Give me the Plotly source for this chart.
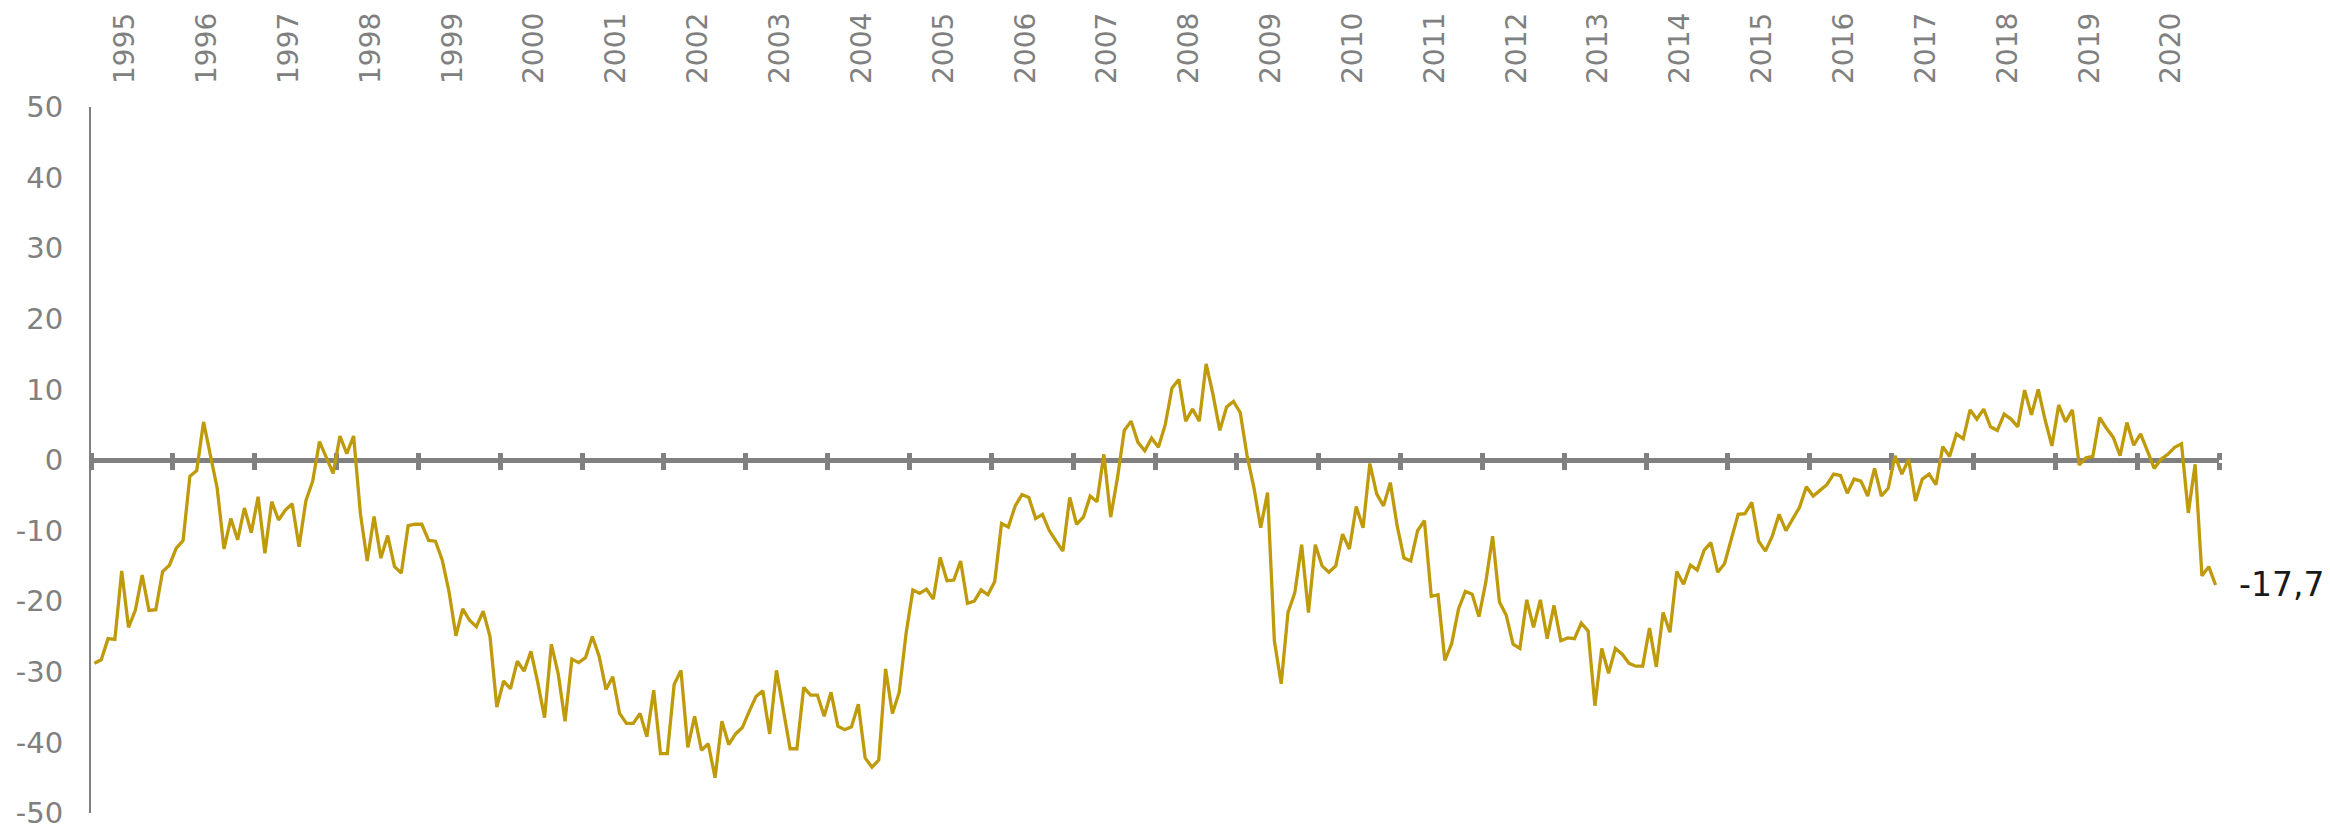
import plotly.graph_objects as go

# ---- data (monthly values, Jan 1995 .. Dec 2020) ----
years = list(range(1995, 2021))

v1995 = [-28.8, -28.3, -25.3, -25.4, -15.7, -23.7, -21.3, -16.3, -21.3, -21.2, -15.8, -14.9]
v1996 = [-12.5, -11.4, -2.3, -1.5, 5.4, 0.7, -4.0, -12.6, -8.3, -11.3, -6.8, -10.3]
v1997 = [-5.2, -13.2, -5.9, -8.5, -7.1, -6.2, -12.3, -5.8, -3.0, 2.6, 0.4, -1.9]
v1998 = [3.4, 0.9, 3.4, -7.6, -14.3, -8.0, -13.9, -10.7, -15.1, -16.0, -9.3, -9.1]
v1999 = [-9.1, -11.4, -11.5, -14.2, -18.7, -24.9, -21.1, -22.7, -23.6, -21.4, -25.0, -35.0]
v2000 = [-31.3, -32.4, -28.5, -29.9, -27.1, -31.5, -36.5, -26.1, -30.3, -37.0, -28.2, -28.7]
v2001 = [-28.0, -25.0, -27.8, -32.5, -30.7, -35.9, -37.3, -37.3, -35.9, -39.2, -32.6, -41.6]
v2002 = [-41.6, -31.8, -29.8, -40.7, -36.3, -41.1, -40.2, -45.0, -37.0, -40.3, -38.8, -37.9]
v2003 = [-35.6, -33.5, -32.7, -38.8, -29.8, -35.4, -40.9, -40.9, -32.2, -33.3, -33.3, -36.3]
v2004 = [-32.9, -37.7, -38.2, -37.8, -34.6, -42.2, -43.5, -42.5, -29.6, -35.9, -32.9, -24.6]
v2005 = [-18.4, -18.9, -18.3, -19.7, -13.8, -17.1, -17.0, -14.3, -20.3, -20.0, -18.4, -19.1]
v2006 = [-17.2, -9.0, -9.5, -6.5, -4.9, -5.3, -8.3, -7.7, -10.0, -11.5, -12.9, -5.3]
v2007 = [-9.1, -8.1, -5.1, -5.9, 0.8, -8.1, -2.5, 4.2, 5.5, 2.5, 1.3, 3.1]
v2008 = [1.8, 5.0, 10.2, 11.4, 5.5, 7.2, 5.5, 13.6, 9.3, 4.2, 7.5, 8.3]
v2009 = [6.7, 0.6, -3.9, -9.6, -4.6, -25.6, -31.7, -21.6, -18.8, -12.0, -21.6, -12.0]
v2010 = [-15.0, -15.9, -15.0, -10.5, -12.6, -6.6, -9.6, -0.5, -4.8, -6.5, -3.2, -9.3]
v2011 = [-13.9, -14.3, -10.0, -8.6, -19.3, -19.1, -28.4, -26.0, -21.1, -18.6, -19.0, -22.2]
v2012 = [-17.3, -10.8, -20.1, -22.0, -26.1, -26.7, -19.8, -23.7, -19.8, -25.3, -20.6, -25.6]
v2013 = [-25.2, -25.3, -23.1, -24.2, -34.8, -26.7, -30.2, -26.7, -27.5, -28.8, -29.2, -29.2]
v2014 = [-23.8, -29.3, -21.6, -24.4, -15.8, -17.6, -14.9, -15.6, -12.8, -11.7, -15.9, -14.7]
v2015 = [-11.4, -7.7, -7.6, -6.0, -11.5, -12.9, -10.8, -7.7, -10.0, -8.3, -6.7, -3.8]
v2016 = [-5.1, -4.3, -3.5, -2.0, -2.2, -4.7, -2.7, -3.0, -5.1, -1.2, -5.1, -4.0]
v2017 = [0.6, -2.0, 0.1, -5.8, -2.7, -2.0, -3.5, 1.9, 0.5, 3.7, 3.0, 7.1]
v2018 = [5.8, 7.2, 4.7, 4.2, 6.5, 5.8, 4.7, 9.9, 6.4, 10.0, 5.7, 2.0]
v2019 = [7.8, 5.4, 7.1, -0.7, 0.3, 0.5, 6.0, 4.5, 3.2, 0.6, 5.3, 2.1]
v2020 = [3.7, 1.3, -1.2, 0.1, 0.8, 1.8, 2.3, -7.5, -0.6, -16.4, -15.1, -17.7]

y_ticks = [50, 40, 30, 20, 10, 0, -10, -20, -30, -40, -50]

yearly = [v1995, v1996, v1997, v1998, v1999, v2000, v2001, v2002, v2003, v2004,
          v2005, v2006, v2007, v2008, v2009, v2010, v2011, v2012, v2013, v2014,
          v2015, v2016, v2017, v2018, v2019, v2020]
values = [v for yr in yearly for v in yr]
months = [f"{y}-{m:02d}" for y in years for m in range(1, 13)]
x_idx = list(range(len(months)))

GREY = "#808080"
GOLD = "#BF9A0A"
FONT = "DejaVu Sans"
n = len(values)
xr = [-0.5, n - 0.5]
boundaries = [12 * k - 0.5 for k in range(len(years) + 1)]
label_pos = [12 * k + 4.5 for k in range(len(years))]

fig = go.Figure()
fig.add_trace(go.Scatter(x=x_idx, y=values, mode="lines",
                         line=dict(color=GOLD, width=3.3),
                         customdata=months, hovertemplate="%{customdata}: %{y}<extra></extra>",
                         showlegend=False))
# helper (invisible) traces so the overlay axes are rendered
for ax in ("x2", "x3"):
    fig.add_trace(go.Scatter(x=[x_idx[0]], y=[values[0]], xaxis=ax, yaxis="y",
                             mode="lines", line=dict(width=0), opacity=0,
                             hoverinfo="skip", showlegend=False))

fig.add_annotation(x=x_idx[-1], y=values[-1], xref="x", yref="y",
                   text=f"{values[-1]:.1f}".replace(".", ","),
                   showarrow=False, xanchor="left", yanchor="middle", xshift=21,
                   font=dict(family=FONT, size=33, color="#1a1a1a"))

fig.update_layout(
    width=2330, height=827,
    margin=dict(l=91, r=111, t=107, b=14, pad=0, autoexpand=False),
    paper_bgcolor="white", plot_bgcolor="white",
    font=dict(family=FONT, color=GREY),
    showlegend=False,
    xaxis=dict(range=xr, anchor="free", position=0.5, side="bottom",
               showline=True, linecolor=GREY, linewidth=5,
               ticks="outside", ticklen=7, tickwidth=5, tickcolor=GREY,
               tickmode="array", tickvals=boundaries, showticklabels=False,
               showgrid=False, zeroline=False, layer="below traces", automargin=False),
    xaxis3=dict(range=xr, overlaying="x", anchor="free", position=0.5, side="top",
                showline=False, ticks="outside", ticklen=7, tickwidth=5, tickcolor=GREY,
                tickmode="array", tickvals=boundaries, showticklabels=False,
                showgrid=False, zeroline=False, layer="below traces", automargin=False),
    xaxis2=dict(range=xr, overlaying="x", anchor="y", side="top",
                showline=False, ticks="", tickmode="array", tickvals=label_pos,
                ticktext=[str(y) for y in years], tickangle=-90,
                tickfont=dict(family=FONT, size=28, color=GREY),
                ticklabelstandoff=22, ticklabeloverflow="allow",
                showgrid=False, zeroline=False, automargin=False),
    yaxis=dict(range=[-50, 50], showline=True, linecolor=GREY, linewidth=2,
               ticks="", tickmode="array", tickvals=y_ticks,
               ticktext=[str(t) for t in y_ticks],
               tickfont=dict(family=FONT, size=29, color=GREY),
               ticklabelstandoff=20, ticklabeloverflow="allow",
               showgrid=False, zeroline=False, automargin=False),
)

# remove the default 8px page margin so the figure sits at the window origin
fig.write_html("out.html", config={"displayModeBar": False},
               post_script="document.body.style.margin='0';document.body.style.overflow='hidden';")
